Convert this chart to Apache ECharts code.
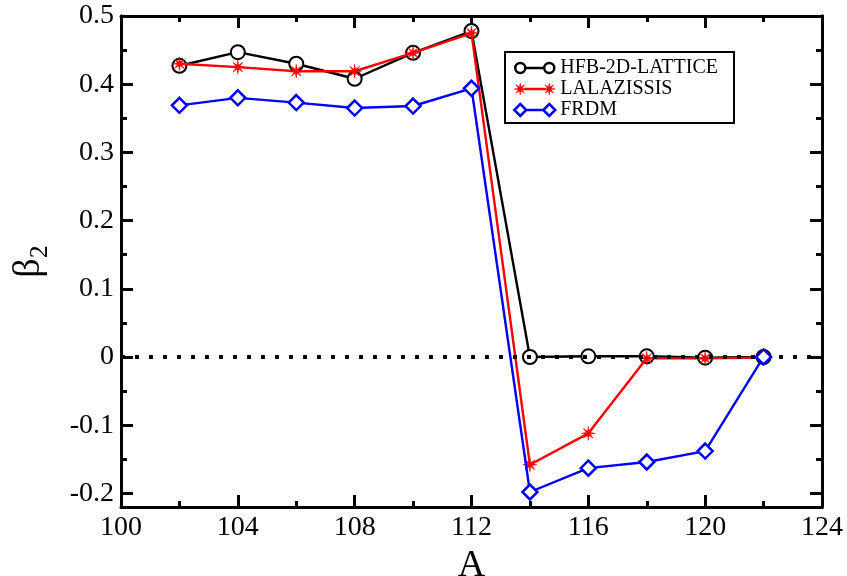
<!DOCTYPE html>
<html>
<head>
<meta charset="utf-8">
<script src="https://cdn.jsdelivr.net/npm/echarts@6/dist/echarts.min.js"></script>
<style>html,body{margin:0;padding:0;background:#fff;}#c{width:847px;height:576px;}</style>
</head>
<body>
<div id="c"></div>
<script>
const massNumbers = [102, 104, 106, 108, 110, 112, 114, 116, 118, 120, 122];
const hfbValues = [0.427, 0.447, 0.430, 0.408, 0.446, 0.478, 0.000, 0.001, 0.001, -0.001, 0.000];
const lalazissisValues = [0.430, 0.425, 0.419, 0.419, 0.446, 0.475, -0.158, -0.112, -0.002, -0.002, -0.001];
const frdmValues = [0.369, 0.380, 0.373, 0.365, 0.368, 0.394, -0.198, -0.163, -0.154, -0.138, 0.000];
const seriesNames = ['HFB-2D-LATTICE', 'LALAZISSIS', 'FRDM'];
const yMajorTicks = [-0.2, -0.1, 0, 0.1, 0.2, 0.3, 0.4, 0.5];
const yMinorTicks = [-0.15, -0.05, 0.05, 0.15, 0.25, 0.35, 0.45];

const pair = (vals) => massNumbers.map((x, i) => [x, vals[i]]);
const FONT = 'Liberation Serif';

// 8-spoke asterisk as a filled star polygon, centred on (cx, cy)
function starPts(cx, cy, R, r) {
  const pts = [];
  for (let k = 0; k < 16; k++) {
    const rr = k % 2 === 0 ? R : r;
    const a = Math.PI * k / 8;
    pts.push((cx + rr * Math.sin(a)).toFixed(2) + ',' + (cy - rr * Math.cos(a)).toFixed(2));
  }
  return 'M' + pts.join('L') + 'Z';
}
const asterisk = 'path://' + starPts(0, 0, 10, 3.2);

// legend icons: symbol - line - symbol (box 0..41 x 0..12)
const ring = (cx) => `M${cx - 5},6A5,5 0 1 0 ${cx + 5},6A5,5 0 1 0 ${cx - 5},6Z`;
const dia = (cx) => `M${cx},0L${cx + 6},6L${cx},12L${cx - 6},6Z`;
const bar = (x0, x1) => `M${x0},5L${x1},5L${x1},7L${x0},7Z`;
const iconHFB = 'path://' + ring(6) + 'M11,6L30,6' + ring(35) + 'M0,0M41,12';
const iconLAL = 'path://' + starPts(6, 6, 6, 2.2) + bar(10, 31) + starPts(35, 6, 6, 2.2) + 'M0,0M41,12';
const iconFRDM = 'path://' + dia(6) + 'M12,6L29,6' + dia(35) + 'M0,0M41,12';

const chart = echarts.init(document.getElementById('c'));
const line = { show: true, onZero: false, lineStyle: { color: '#000', width: 3 } };
const tick = (len, vals) => {
  const t = { show: true, inside: true, length: len, lineStyle: { color: '#000', width: 3 } };
  if (vals) t.customValues = vals;
  return t;
};
const xBase = { type: 'value', min: 100, max: 124, interval: 4, splitLine: { show: false } };
const yBase = { type: 'value', min: -0.22, max: 0.5, splitLine: { show: false } };
const xMinor = { show: true, splitNumber: 2, length: 6, lineStyle: { color: '#000', width: 3 } };

chart.setOption({
  animation: false,
  backgroundColor: '#fff',
  textStyle: { fontFamily: FONT },
  grid: { left: 121, right: 25, top: 16, bottom: 69, outerBoundsMode: 'none', containLabel: false },
  legend: {
    orient: 'vertical', left: 505, top: 52,
    padding: [6, 16, 3, 8], itemGap: 1, itemWidth: 41, itemHeight: 12,
    borderColor: '#000', borderWidth: 2, backgroundColor: '#fff',
    textStyle: { fontFamily: FONT, fontSize: 20, color: '#000', lineHeight: 20 },
    data: [
      { name: seriesNames[0], icon: iconHFB, itemStyle: { color: 'rgba(0,0,0,0)', borderColor: '#000', borderWidth: 2.5 } },
      { name: seriesNames[1], icon: iconLAL, itemStyle: { color: '#ff0000', borderColor: '#ff0000', borderWidth: 0.5 } },
      { name: seriesNames[2], icon: iconFRDM, itemStyle: { color: 'rgba(0,0,0,0)', borderColor: '#0000ff', borderWidth: 2.5 } }
    ]
  },
  xAxis: [
    Object.assign({}, xBase, {
      axisLine: line, axisTick: tick(12), minorTick: xMinor,
      axisLabel: { fontFamily: FONT, fontSize: 28, color: '#000', margin: 7 },
      name: 'A', nameLocation: 'middle', nameGap: 33,
      nameTextStyle: { fontFamily: FONT, fontSize: 38, color: '#000' }
    }),
    Object.assign({}, xBase, {
      position: 'top', axisLine: line, axisTick: tick(12), minorTick: xMinor,
      axisLabel: { show: false }
    })
  ],
  yAxis: [
    Object.assign({}, yBase, {
      position: 'left', axisLine: line, axisTick: tick(12, yMajorTicks),
      axisLabel: {
        fontFamily: FONT, fontSize: 28, color: '#000', margin: 7,
        customValues: yMajorTicks,
        formatter: (v) => (Math.abs(v) < 1e-9 ? '0' : v.toFixed(1))
      },
      name: '{b|β}{s|2}', nameLocation: 'middle', nameGap: 68,
      nameTextStyle: {
        rich: {
          b: { fontFamily: FONT, fontSize: 38, color: '#000' },
          s: { fontFamily: FONT, fontSize: 26, color: '#000', padding: [22, 0, 0, 0] }
        }
      }
    }),
    Object.assign({}, yBase, {
      position: 'left', axisLine: line, axisTick: tick(6, yMinorTicks), axisLabel: { show: false }
    }),
    Object.assign({}, yBase, {
      position: 'right', axisLine: line, axisTick: tick(12, yMajorTicks), axisLabel: { show: false }
    }),
    Object.assign({}, yBase, {
      position: 'right', axisLine: line, axisTick: tick(6, yMinorTicks), axisLabel: { show: false }
    })
  ],
  series: [
    {
      name: seriesNames[0], type: 'line', data: pair(hfbValues), z: 3,
      symbol: 'emptyCircle', symbolSize: 14,
      lineStyle: { color: '#000', width: 2.4 },
      itemStyle: { color: '#000', borderColor: '#000', borderWidth: 2.5 },
      markLine: {
        silent: true, symbol: 'none', label: { show: false },
        lineStyle: { color: '#000', width: 4, type: [4, 10] },
        data: [{ yAxis: 0 }]
      }
    },
    {
      name: seriesNames[1], type: 'line', data: pair(lalazissisValues), z: 4,
      symbol: asterisk, symbolSize: 14,
      lineStyle: { color: '#ff0000', width: 2.4 },
      itemStyle: { color: '#ff0000', borderColor: '#ff0000', borderWidth: 0.5 }
    },
    {
      name: seriesNames[2], type: 'line', data: pair(frdmValues), z: 5,
      symbol: 'diamond', symbolSize: 15,
      lineStyle: { color: '#0000ff', width: 2.4 },
      itemStyle: { color: '#fff', borderColor: '#0000ff', borderWidth: 2.5 }
    }
  ]
});
</script>
</body>
</html>
